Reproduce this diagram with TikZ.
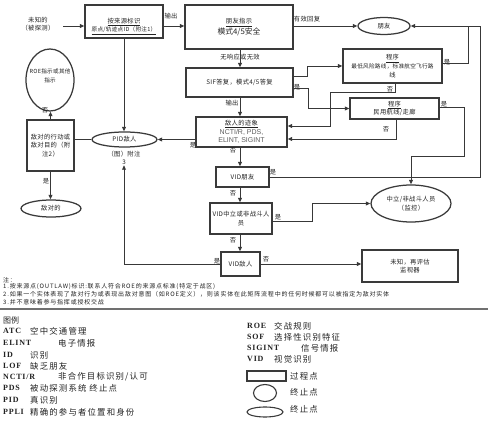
\documentclass[tikz,border=0pt]{standalone}
\usepackage{fontspec}
\setmainfont{Liberation Serif}
\newfontfamily\cjk[LetterSpace=5]{Noto Sans CJK SC}
\newfontfamily\cjkn[LetterSpace=13]{Noto Sans CJK SC}
\newfontfamily\cjkl[LetterSpace=14]{Noto Sans CJK SC}
\newfontfamily\cjkplain{Noto Sans CJK SC}
\newfontfamily\abbr[LetterSpace=10]{Liberation Serif}
\newfontfamily\sansf{Liberation Sans}
\usetikzlibrary{shapes.geometric,arrows.meta}
\definecolor{boxc}{HTML}{3A3A3A}
\definecolor{linec}{HTML}{383838}
\definecolor{txtc}{HTML}{222222}
\definecolor{rulec}{HTML}{707070}
\definecolor{grtxt}{HTML}{5E5E5E}
\newcommand\dfont{\cjk\fontsize{6.3}{8.6}\selectfont}
\newcommand\sfont{\cjk\fontsize{5.6}{8.6}\selectfont}
\newcommand\nfont{\cjkn\fontsize{6}{7}\selectfont}
\newcommand\lfont{\cjkl\fontsize{8.4}{9}\selectfont}
\newcommand\afont{\abbr\bfseries\fontsize{8}{9}\selectfont}
\tikzset{
  bx/.style={draw=boxc, line width=1.25pt, inner sep=0pt, align=center, font=\dfont, text=txtc},
  el/.style={ellipse, draw=boxc, line width=1.25pt, inner sep=0pt, align=center, font=\dfont, text=txtc},
  arr/.style={draw=linec, line width=0.95pt, -{Triangle[length=4.5pt,width=3.8pt]}},
  ln/.style={draw=linec, line width=0.95pt},
  lbl/.style={font=\dfont, inner sep=0pt, text=txtc},
  note/.style={font=\nfont, inner sep=0pt, anchor=west, text=txtc},
  lg/.style={font=\lfont, inner sep=0pt, anchor=west, text=txtc},
  ab/.style={font=\afont, inner sep=0pt, anchor=west, text=txtc},
}
\begin{document}
\begin{tikzpicture}[x=1pt,y=-1pt]
\fill[white] (0,0) rectangle (488,422);
\useasboundingbox (0,0) rectangle (488,422);
\coordinate (mx) at (240,0);
% ---- nodes
\node[lbl, align=center] (u0) at (38,24) {未知的\\（被探测）};
\coordinate (a0) at (63,26);
\node[bx, minimum width=78pt, minimum height=33pt,
  label={[lbl,align=center,yshift=-5pt]center:{\underline{按来源标识}\\\underline{\sfont 原点/轨迹点ID（附注1）}}}] (b1) at (124,21.5) {};
\node[bx, minimum width=108pt, minimum height=44pt] (b2) at (239,27)
  {\underline{朋友指示}\\{\cjkplain\fontsize{7.8}{9}\selectfont 模式4/5安全}};
\node[el, minimum width=52pt, minimum height=17pt] (fr) at (384,26) {朋友};
\node[bx, minimum width=107pt, minimum height=29pt] (sif) at (239.5,82.5) {SIF答复，模式4/5答复};
\node[bx, minimum width=99pt, minimum height=34pt] (p1) at (392.5,66)
  {\underline{程序}\\{\sfont 最低风险路线，标准航空飞行路}\\线};
\node[bx, minimum width=89pt, minimum height=21pt] (p2) at (394.5,108.5)
  {\underline{程序}\\民用航线/走廊};
\node[bx, minimum width=91pt, minimum height=30pt] (en) at (241.5,132)
  {\underline{敌人的迹象}\\{\sansf\fontsize{7}{8.5}\selectfont\color{grtxt}NCTI/R, PDS,}\\{\sansf\fontsize{7}{8.5}\selectfont\color{grtxt}ELINT, SIGINT}};
\node[el, minimum width=65pt, minimum height=15pt] (pid) at (124.5,139.5) {PID敌人};
\node[lbl, align=center] (pn) at (124,158) {（图）附注\\3};
\node[bx, minimum width=47pt, minimum height=51pt] (hb) at (50.5,145.5) {敌对的行动或\\敌对目的（附\\注2）};
\node[el, minimum width=48pt, minimum height=62pt,
  label={[lbl,font=\sfont,align=center,yshift=4pt]center:{ROE指示或其他\\指示}}] (roe) at (50,80) {};
\node[el, minimum width=60pt, minimum height=17pt] (ho) at (51,208.5) {敌对的};
\node[bx, minimum width=53pt, minimum height=20pt] (vf) at (242.5,177) {VID朋友};
\node[bx, minimum width=62pt, minimum height=31pt] (vn) at (241,218.5) {VID中立或非战斗人\\员};
\node[el, minimum width=80pt, minimum height=37pt] (ne) at (411,203.5) {中立/非战斗人员\\（监控）};
\node[bx, minimum width=39pt, minimum height=24pt] (ve) at (240.5,264) {VID敌人};
\node[bx, minimum width=96pt, minimum height=32pt] (unk) at (410,266) {未知，再评估\\监视器};
% ---- connector labels
\node[lbl] (t1) at (171,16) {输出};
\node[lbl] (t2) at (307,19) {有效回复};
\node[lbl] (t3) at (240,57) {无响应或无效};
\node[lbl] (t4) at (297,87) {是};
\node[lbl] (t5) at (232,103) {输出};
\node[lbl] (t6) at (447,62) {是};
\node[lbl] (t7) at (390,89) {否};
\node[lbl] (t8) at (444,104) {是};
\node[lbl] (t9) at (386,129) {否};
\node[lbl] (t10) at (193,145) {是};
\node[lbl] (t11) at (233,150) {否};
\node[lbl] (t12) at (273,172) {是};
\node[lbl] (t13) at (233,193) {否};
\node[lbl] (t14) at (278,217) {是};
\node[lbl] (t15) at (233,240) {否};
\node[lbl] (t16) at (217,261) {是};
\node[lbl] (t17) at (266,259) {否};
\node[lbl] (t18) at (45,110) {否};
\node[lbl] (t19) at (46,181) {是};
% ---- connectors
\draw[arr] (a0) -- (a0 -| b1.west);
\coordinate (o1) at ([yshift=-4.5pt]b1.east);
\draw[arr] (o1) -- (o1 -| b2.west);
\draw[arr] (b2.east |- fr.west) -- (fr.west);
\draw[arr] (b2.south -| mx) -- (sif.north -| mx);
\coordinate (s1) at ([yshift=6.5pt]sif.east);
\draw[arr] (s1) -- ++(14,0) |- (p1.west);
\coordinate (s2) at ([yshift=-5.5pt]sif.east);
\draw[arr] (s2) -- ++(15,0) |- (p2.west);
\coordinate (jP) at (468,26);
\coordinate (jR) at (480,26);
\coordinate (p1e) at ([yshift=3pt]p1.east);
\draw[ln] (p1e) -| (jP);
\draw[arr] (jR) -- (fr.east);
\draw[ln] (vf.east) -| (jR);
\coordinate (n1a) at (395,92);
\coordinate (n1b) at (330,92);
\coordinate (en1) at ([yshift=6pt]en.east);
\draw[arr] (p1.south -| n1a) -- (n1a) -- (n1b) |- (en1);
\coordinate (n2) at (396,139);
\coordinate (en2) at (en.east |- n2);
\draw[arr] (p2.south -| n2) -- (n2) -- (en2);
\coordinate (y2a) at (464,156);
\coordinate (p2e) at ([yshift=1.5pt]p2.east);
\draw[arr] (p2e) -| (y2a) -| (ne.north);
\draw[arr] (sif.south -| mx) -- (en.north -| mx);
\draw[arr] (en.west |- pid.east) -- (pid.east);
\draw[arr] (en.south -| mx) -- (vf.north -| mx);
\draw[arr] (vf.south -| mx) -- (vn.north -| mx);
\coordinate (vk) at (312,221);
\coordinate (vne) at (vn.east |- vk);
\draw[arr] (vne) -- (vk) |- (ne.west);
\draw[arr] (vn.south -| mx) -- (ve.north -| mx);
\draw[arr] (ve.east) -- (ve.east -| unk.west);
\draw[arr] (ve.west) -| (pn.south);
\draw[arr] (b1.south) -- (b1.south |- pid.north);
\draw[ln] (pid.west) -- (pid.west -| hb.east);
\draw[arr] (hb.north) -- (hb.north |- roe.south);
\draw[arr] (hb.south) -- (hb.south |- ho.north);
% ---- notes
\node[note] (nt0) at (3,280) {注：};
\node[note] (nt1) at (3,287) {1.按来源点(OUTLAW)标识:联系人符合ROE的来源点标准(特定于战区)};
\node[note] (nt2) at (3,294.5) {2.如果一个实体表现了敌对行为或表现出敌对意图（如ROE定义），则该实体在此矩阵流程中的任何时候都可以被指定为敌对实体};
\node[note] (nt3) at (3,302) {3.并不意味着参与指挥或授权交战};
\draw[rulec, line width=1.5pt] (0,309) -- (488,309);
% ---- legend
\node[lg, font=\cjkplain\fontsize{8}{9}\selectfont] (lgt) at (3,320) {图例};
\node[ab] (aATC) at (3,331) {ATC};     \node[lg] (cATC) at (30,331) {空中交通管理};
\node[ab] (aEL) at (3,343) {ELINT};    \node[lg] (cEL) at (58,343) {电子情报};
\node[ab] (aID) at (3,355) {ID};       \node[lg] (cID) at (30,355) {识别};
\node[ab] (aLOF) at (3,366) {LOF};     \node[lg] (cLOF) at (30,366) {缺乏朋友};
\node[ab] (aNC) at (3,377) {NCTI/R};   \node[lg] (cNC) at (58,377) {非合作目标识别/认可};
\node[ab] (aPDS) at (3,388) {PDS};     \node[lg] (cPDS) at (30,388) {被动探测系统\hspace{3pt}终止点};
\node[ab] (aPID) at (3,400) {PID};     \node[lg] (cPID) at (30,400) {真识别};
\node[ab] (aPP) at (3,412) {PPLI};     \node[lg] (cPP) at (30,412) {精确的参与者位置和身份};
\node[ab] (aROE) at (247,326) {ROE};   \node[lg] (cROE) at (274,326) {交战规则};
\node[ab] (aSOF) at (247,337) {SOF};   \node[lg] (cSOF) at (274,337) {选择性识别特征};
\node[ab] (aSIG) at (247,348) {SIGINT}; \node[lg] (cSIG) at (301,348) {信号情报};
\node[ab] (aVID) at (247,359) {VID};   \node[lg] (cVID) at (274,359) {视觉识别};
\node[draw=boxc, line width=1.3pt, minimum width=39pt, minimum height=10pt, inner sep=0pt] (lgr) at (266.5,376) {};
\node[lg] (lgrt) at (290,376) {过程点};
\node[ellipse, draw=boxc, line width=1.1pt, minimum width=23pt, minimum height=17pt, inner sep=0pt] (lgc) at (265,393) {};
\node[lg] (lgct) at (290,392) {终止点};
\node[ellipse, draw=boxc, line width=1.1pt, minimum width=36pt, minimum height=10pt, inner sep=0pt] (lge) at (265,412) {};
\node[lg] (lget) at (290,409) {终止点};
\end{tikzpicture}
\end{document}
